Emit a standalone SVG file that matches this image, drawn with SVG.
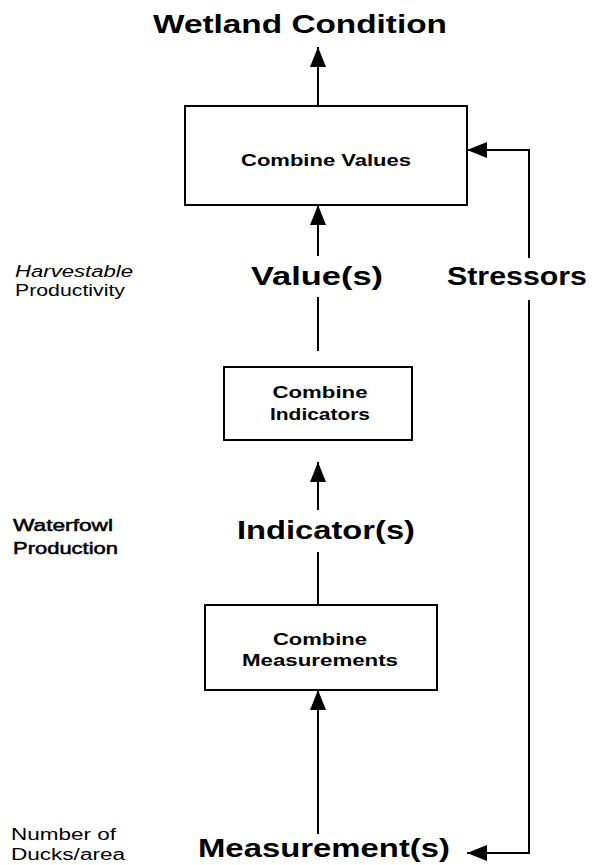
<svg xmlns="http://www.w3.org/2000/svg" width="596" height="865" viewBox="0 0 596 865">
<style>
.box{fill:#fff;stroke:#000;stroke-width:2}
.ln{fill:none;stroke:#000;stroke-width:2}
.big{font-family:"Liberation Sans",Arial,sans-serif;font-weight:bold;font-size:26px;fill:#000}
.mid{font-family:"Liberation Sans",Arial,sans-serif;font-weight:bold;font-size:16px;fill:#000}
.sm{font-family:"Liberation Sans",Arial,sans-serif;font-size:16px;fill:#000}
.semi{stroke:#000;stroke-width:0.5}
</style>
<defs>
<marker id="ah" viewBox="0 0 20 16" refX="20" refY="8" markerWidth="20" markerHeight="16" markerUnits="userSpaceOnUse" orient="auto">
<path d="M0,0 L20,8 L0,16 Z" fill="#000"/>
</marker>
</defs>
<rect width="596" height="865" fill="#fff"/>
<g id="connectors">
<line class="ln" x1="318" y1="106" x2="318" y2="47" marker-end="url(#ah)"/>
<line class="ln" x1="318" y1="256" x2="318" y2="205" marker-end="url(#ah)"/>
<line class="ln" x1="318" y1="297" x2="318" y2="351"/>
<line class="ln" x1="318" y1="510" x2="318" y2="462" marker-end="url(#ah)"/>
<line class="ln" x1="318" y1="552" x2="318" y2="605"/>
<line class="ln" x1="318" y1="834" x2="318" y2="690" marker-end="url(#ah)"/>
<polyline class="ln" points="529,258 529,150 467,150" marker-end="url(#ah)"/>
<polyline class="ln" points="529,300 529,853 467,853" marker-end="url(#ah)"/>
</g>
<g id="title"><text class="big" x="153" y="33" textLength="294" lengthAdjust="spacingAndGlyphs">Wetland Condition</text></g>
<g id="combine-values">
<rect class="box" x="185" y="106" width="282" height="99"/>
<text class="mid" x="326" y="166" text-anchor="middle" textLength="170" lengthAdjust="spacingAndGlyphs">Combine Values</text>
</g>
<g id="values"><text class="big" x="317" y="285" text-anchor="middle" textLength="132" lengthAdjust="spacingAndGlyphs">Value(s)</text></g>
<g id="stressors"><text class="big" x="517" y="285" text-anchor="middle" textLength="140" lengthAdjust="spacingAndGlyphs">Stressors</text></g>
<g id="combine-indicators">
<rect class="box" x="224" y="367" width="188" height="73"/>
<text class="mid" x="320" y="398" text-anchor="middle" textLength="95" lengthAdjust="spacingAndGlyphs">Combine</text>
<text class="mid" x="320" y="420" text-anchor="middle" textLength="100" lengthAdjust="spacingAndGlyphs">Indicators</text>
</g>
<g id="indicators"><text class="big" x="326" y="539" text-anchor="middle" textLength="178" lengthAdjust="spacingAndGlyphs">Indicator(s)</text></g>
<g id="combine-measurements">
<rect class="box" x="205" y="605" width="232" height="85"/>
<text class="mid" x="320" y="645" text-anchor="middle" textLength="94" lengthAdjust="spacingAndGlyphs">Combine</text>
<text class="mid" x="320" y="666" text-anchor="middle" textLength="156" lengthAdjust="spacingAndGlyphs">Measurements</text>
</g>
<g id="measurements"><text class="big" x="198" y="857" textLength="252" lengthAdjust="spacingAndGlyphs">Measurement(s)</text></g>
<g id="side-labels">
<text class="sm" x="15" y="277" font-style="italic" textLength="118" lengthAdjust="spacingAndGlyphs">Harvestable</text>
<text class="sm" x="15" y="296" textLength="110" lengthAdjust="spacingAndGlyphs">Productivity</text>
<text class="sm semi" x="13" y="531" textLength="100" lengthAdjust="spacingAndGlyphs">Waterfowl</text>
<text class="sm semi" x="13" y="554" textLength="105" lengthAdjust="spacingAndGlyphs">Production</text>
<text class="sm" x="11" y="840" textLength="105" lengthAdjust="spacingAndGlyphs">Number of</text>
<text class="sm" x="11" y="860" textLength="114" lengthAdjust="spacingAndGlyphs">Ducks/area</text>
</g>
</svg>
